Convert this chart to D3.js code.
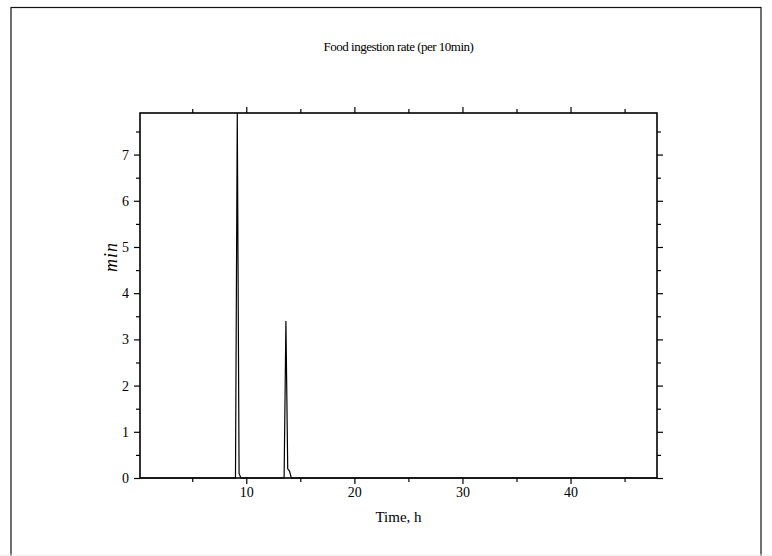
<!DOCTYPE html>
<html>
<head>
<meta charset="utf-8">
<script src="https://cdn.jsdelivr.net/npm/d3@7"></script>
<style>
html,body{margin:0;padding:0;background:#fff;}
svg{display:block;}
text{font-family:"Liberation Serif","Times New Roman",serif;fill:#000;}
</style>
</head>
<body>
<svg id="chart" width="772" height="556"></svg>
<script>
// Data (time in hours, ingestion in min per 10 min)
const times  = [0.1667, 9.0, 9.1667, 9.3333, 9.5, 13.5, 13.6667, 13.8333, 14.0, 14.1667, 48.0];
const values = [0, 0, 7.9, 0.1, 0, 0, 3.4, 0.2, 0.15, 0, 0];
const xMajorTicks = [10, 20, 30, 40];
const xMinorTicks = [5, 15, 25, 35, 45];
const yMajorTicks = [0, 1, 2, 3, 4, 5, 6, 7];
const yMinorTicks = [0.5, 1.5, 2.5, 3.5, 4.5, 5.5, 6.5, 7.5];
const titleText = "Food ingestion rate (per 10min)";
const xLabel = "Time, h";
const yLabel = "min";

const W = 772, H = 556;
const m = {left:140, right:657, top:113, bottom:478};
const svg = d3.select("#chart");

// outer frame
svg.append("rect").attr("x",11).attr("y",7.5).attr("width",750).attr("height",560)
  .attr("fill","none").attr("stroke","#111").attr("stroke-width",1.2);
svg.append("line").attr("x1",0).attr("x2",W).attr("y1",555).attr("y2",555)
  .attr("stroke","#eee").attr("stroke-width",1);

const x = d3.scaleLinear().domain([0.1667, 48]).range([m.left, m.right]);
const y = d3.scaleLinear().domain([0, 7.9]).range([m.bottom, m.top]);

const data = times.map((t,i)=>({t, v: values[i]}));

// line
svg.append("path").datum(data)
  .attr("fill","none").attr("stroke","#000").attr("stroke-width",1.2)
  .attr("d", d3.line().x(d=>x(d.t)).y(d=>y(d.v)));

const fs = 14;
function styleAxis(g){
  g.select(".domain").remove();
  g.selectAll(".tick line").attr("stroke","#000").attr("stroke-width",1.2);
  g.selectAll(".tick text").attr("fill","#222").style("font-size",fs+"px").style("font-family",'"Liberation Serif",serif');
}
// bottom
svg.append("g").attr("transform",`translate(0,${m.bottom})`)
  .call(d3.axisBottom(x).tickValues(xMajorTicks).tickSize(6).tickPadding(3).tickFormat(d3.format("d"))).call(styleAxis);
svg.append("g").attr("transform",`translate(0,${m.bottom})`)
  .call(d3.axisBottom(x).tickValues(xMinorTicks).tickSize(4).tickFormat("")).call(styleAxis);
// top
svg.append("g").attr("transform",`translate(0,${m.top})`)
  .call(d3.axisTop(x).tickValues(xMajorTicks).tickSize(6).tickFormat("")).call(styleAxis);
svg.append("g").attr("transform",`translate(0,${m.top})`)
  .call(d3.axisTop(x).tickValues(xMinorTicks).tickSize(4).tickFormat("")).call(styleAxis);
// left
svg.append("g").attr("transform",`translate(${m.left},0)`)
  .call(d3.axisLeft(y).tickValues(yMajorTicks).tickSize(6).tickPadding(5).tickFormat(d3.format("d"))).call(styleAxis);
svg.append("g").attr("transform",`translate(${m.left},0)`)
  .call(d3.axisLeft(y).tickValues(yMinorTicks).tickSize(4).tickFormat("")).call(styleAxis);
// right
svg.append("g").attr("transform",`translate(${m.right},0)`)
  .call(d3.axisRight(y).tickValues(yMajorTicks).tickSize(6).tickFormat("")).call(styleAxis);
svg.append("g").attr("transform",`translate(${m.right},0)`)
  .call(d3.axisRight(y).tickValues(yMinorTicks).tickSize(4).tickFormat("")).call(styleAxis);

// plot box
svg.append("rect").attr("x",m.left).attr("y",m.top).attr("width",m.right-m.left).attr("height",m.bottom-m.top)
  .attr("fill","none").attr("stroke","#000").attr("stroke-width",1.6);

// title
svg.append("text").attr("x",(m.left+m.right)/2).attr("y",51).attr("text-anchor","middle")
  .attr("fill","#222").style("font-size","13px").style("letter-spacing","-0.5px").text(titleText);
// x label
svg.append("text").attr("x",(m.left+m.right)/2).attr("y",522).attr("text-anchor","middle")
  .attr("fill","#222").style("font-size","15px").text(xLabel);
// y label
svg.append("text").attr("transform",`translate(117,257) rotate(-90)`).attr("text-anchor","middle")
  .attr("fill","#111").style("font-size","18px").style("font-style","italic").style("letter-spacing","1px").text(yLabel);
</script>
</body>
</html>
